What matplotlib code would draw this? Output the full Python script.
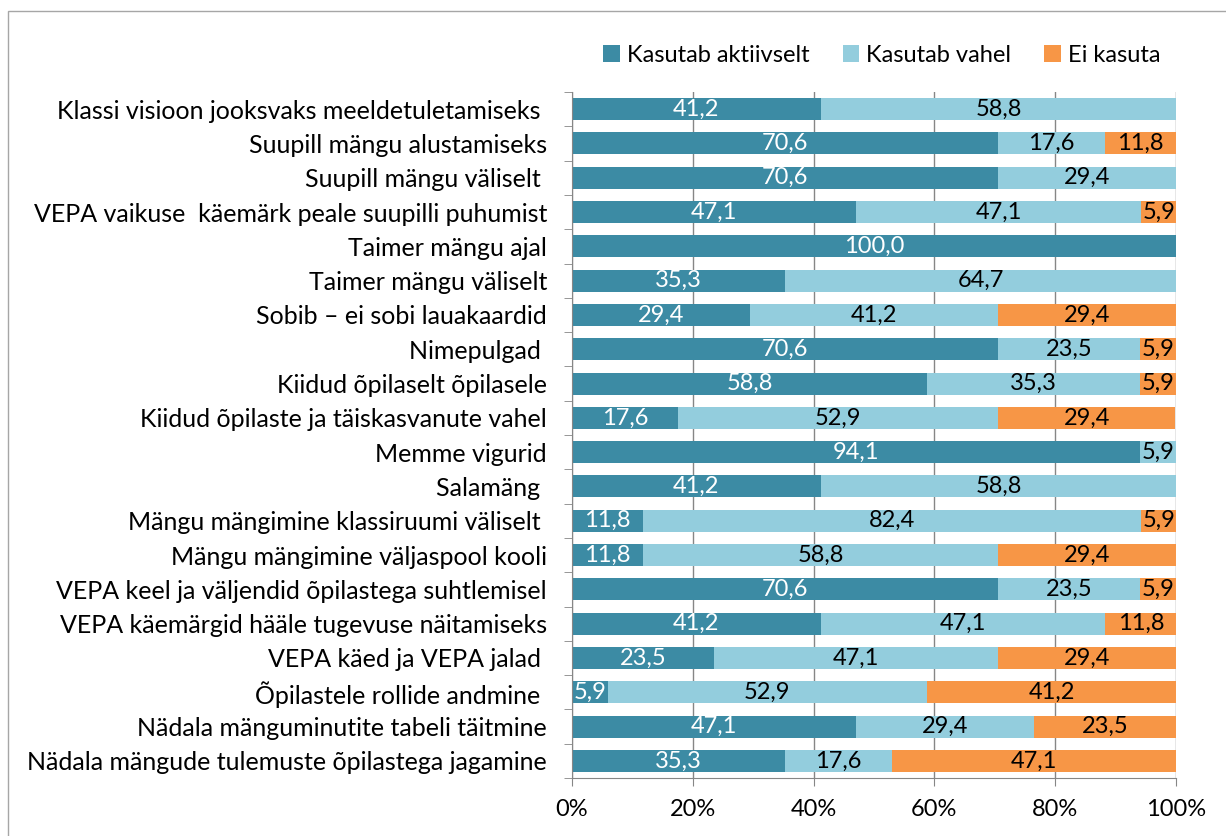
import numpy as np
import matplotlib
matplotlib.use("Agg")
from matplotlib import pyplot as plt
from matplotlib.patches import Rectangle

plt.rcParams['font.family'] = ['Lato', 'DejaVu Sans']

categories = [
    "Klassi visioon jooksvaks meeldetuletamiseks ",
    "Suupill mängu alustamiseks",
    "Suupill mängu väliselt ",
    "VEPA vaikuse  käemärk peale suupilli puhumist",
    "Taimer mängu ajal",
    "Taimer mängu väliselt",
    "Sobib – ei sobi lauakaardid",
    "Nimepulgad ",
    "Kiidud õpilaselt õpilasele",
    "Kiidud õpilaste ja täiskasvanute vahel",
    "Memme vigurid",
    "Salamäng ",
    "Mängu mängimine klassiruumi väliselt ",
    "Mängu mängimine väljaspool kooli",
    "VEPA keel ja väljendid õpilastega suhtlemisel",
    "VEPA käemärgid hääle tugevuse näitamiseks",
    "VEPA käed ja VEPA jalad ",
    "Õpilastele rollide andmine ",
    "Nädala mänguminutite tabeli täitmine",
    "Nädala mängude tulemuste õpilastega jagamine",
]
aktiivselt = [41.2, 70.6, 70.6, 47.1, 100.0, 35.3, 29.4, 70.6, 58.8, 17.6,
              94.1, 41.2, 11.8, 11.8, 70.6, 41.2, 23.5, 5.9, 47.1, 35.3]
vahel = [58.8, 17.6, 29.4, 47.1, 0, 64.7, 41.2, 23.5, 35.3, 52.9,
         5.9, 58.8, 82.4, 58.8, 23.5, 47.1, 47.1, 52.9, 29.4, 17.6]
ei_kasuta = [0, 11.8, 0, 5.9, 0, 0, 29.4, 5.9, 5.9, 29.4,
             0, 0, 5.9, 29.4, 5.9, 11.8, 29.4, 41.2, 23.5, 47.1]
series_names = ["Kasutab aktiivselt", "Kasutab vahel", "Ei kasuta"]
colors = ["#3C8BA4", "#93CDDD", "#F79646"]
text_colors = ["white", "black", "black"]

fs = 17

fig = plt.figure(figsize=(12.26, 8.36), dpi=100)
ax = fig.add_axes([572/1226, 1-778/836, 604/1226, 686/836])

y = np.arange(len(categories))
left = np.zeros(len(categories))
handles = []
for vals, name, c, tc in zip([aktiivselt, vahel, ei_kasuta], series_names, colors, text_colors):
    vals = np.array(vals, dtype=float)
    b = ax.barh(y, vals, left=left, height=0.64, color=c, label=name, zorder=2)
    handles.append(b)
    for yi, (l, v) in enumerate(zip(left, vals)):
        if v > 0:
            ax.text(l + v/2, yi, ("%.1f" % v).replace(".", ","), ha="center", va="center",
                    color=tc, fontsize=fs, zorder=3)
    left += vals

ax.set_xlim(0, 100)
ax.set_ylim(len(categories)-0.5, -0.5)
ax.set_yticks(y)
ax.set_yticklabels(categories, fontsize=18)
ax.set_yticks(np.arange(len(categories)+1)-0.5, minor=True)
ax.tick_params(axis="y", which="major", length=0, pad=18)
ax.tick_params(axis="y", which="minor", length=6, color="#868686")
ax.set_xticks(np.arange(0, 101, 20))
ax.set_xticklabels([str(v) + "%" for v in range(0, 101, 20)], fontsize=fs)
ax.tick_params(axis="x", length=6, color="#868686", pad=9)
ax.grid(axis="x", color="#868686", linewidth=1, zorder=0)
ax.set_axisbelow(True)
for s in ["top", "right"]:
    ax.spines[s].set_visible(False)
for s in ["left", "bottom"]:
    ax.spines[s].set_color("#868686")

fig.legend(handles=handles, loc="center", bbox_to_anchor=(882/1226, 1-55/836), ncol=3,
           frameon=False, fontsize=fs, handlelength=0.7, handleheight=0.7,
           handletextpad=0.3, columnspacing=1.4)

fig.patches.append(Rectangle((8/1226, -0.1), 1.2, 1.1 - 11/836, transform=fig.transFigure,
                             fill=False, edgecolor="#A6A6A6", linewidth=1))

fig.savefig("out.png", dpi=100)
